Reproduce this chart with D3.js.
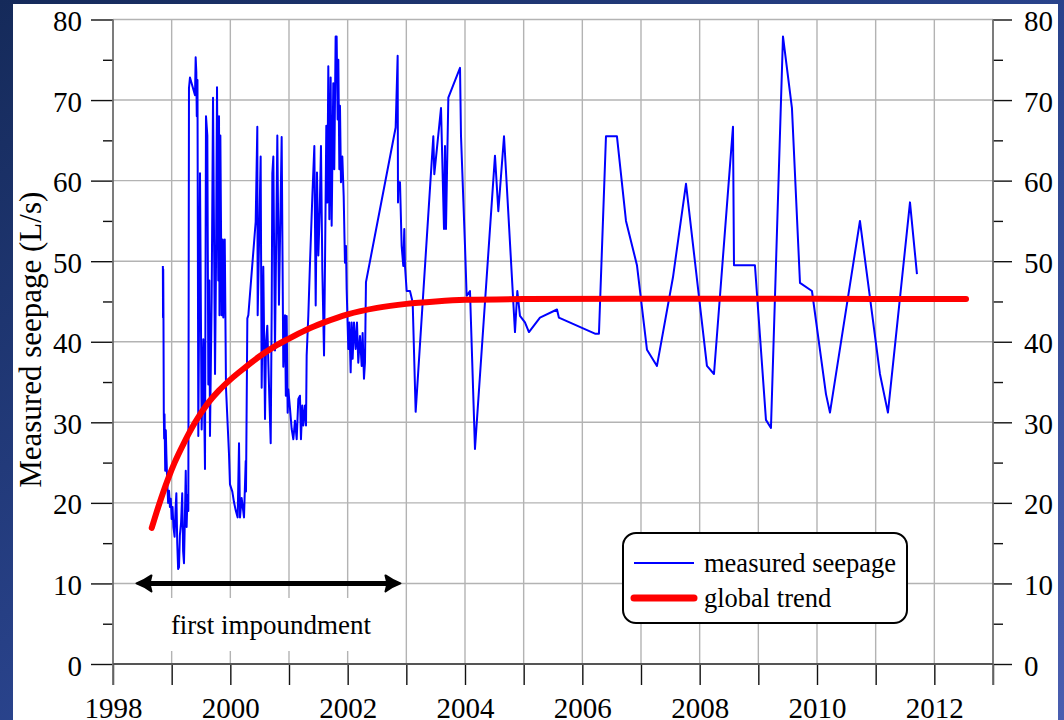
<!DOCTYPE html>
<html>
<head>
<meta charset="utf-8">
<script src="https://cdn.jsdelivr.net/npm/d3@7"></script>
<style>
  html, body { margin: 0; padding: 0; overflow: hidden; }
  svg { display: block; }
  text { font-family: "Liberation Serif", "DejaVu Serif", serif; fill: #000; }
</style>
</head>
<body>
<svg id="chart" width="1064" height="720"></svg>
<script>
// Measured seepage through the dam, [decimal year, L/s]
const measuredSeepage = [
  [1998.850, 49.4], [1998.853, 43.0], [1998.856, 49.0], [1998.860, 43.5], [1998.866, 31.0],
  [1998.872, 28.0], [1998.878, 31.0], [1998.890, 24.0], [1998.900, 29.0], [1998.910, 26.0],
  [1998.925, 22.5], [1998.940, 20.0], [1998.955, 21.5], [1998.970, 19.5], [1998.985, 20.5],
  [1999.000, 18.0], [1999.015, 19.5], [1999.030, 17.0], [1999.050, 15.8], [1999.065, 19.0],
  [1999.080, 21.2], [1999.095, 15.0], [1999.110, 11.8], [1999.125, 12.0], [1999.140, 16.0],
  [1999.160, 17.5], [1999.180, 21.2], [1999.195, 14.0], [1999.210, 12.5], [1999.225, 18.0],
  [1999.240, 24.0], [1999.255, 17.0], [1999.270, 21.0], [1999.284, 19.0],
  [1999.295, 71.5], [1999.312, 72.8], [1999.398, 70.6], [1999.409, 75.3], [1999.420, 73.5],
  [1999.428, 68.0], [1999.440, 72.5], [1999.454, 28.3], [1999.483, 60.9], [1999.511, 29.1],
  [1999.539, 40.3], [1999.568, 24.2], [1999.585, 68.0], [1999.608, 65.6], [1999.625, 34.7],
  [1999.642, 47.6], [1999.653, 28.3], [1999.682, 45.5], [1999.705, 70.3], [1999.739, 36.0],
  [1999.756, 49.7], [1999.773, 71.6], [1999.795, 47.6], [1999.807, 68.0], [1999.815, 43.3],
  [1999.830, 65.6], [1999.852, 43.3], [1999.870, 52.7], [1999.880, 43.0], [1999.905, 52.7],
  [1999.926, 34.3], [1999.955, 29.6], [1999.977, 26.1], [1999.994, 22.3], [2000.034, 21.4],
  [2000.062, 20.1], [2000.091, 19.1], [2000.125, 18.2], [2000.148, 27.4], [2000.165, 18.2],
  [2000.193, 20.6], [2000.233, 18.2], [2000.262, 25.2], [2000.267, 21.4], [2000.290, 42.9],
  [2000.307, 43.3], [2000.432, 54.9], [2000.460, 66.7], [2000.466, 43.3], [2000.517, 63.0],
  [2000.534, 34.3], [2000.562, 49.3], [2000.591, 30.4], [2000.608, 39.9], [2000.630, 42.0],
  [2000.665, 33.0], [2000.688, 27.4], [2000.705, 44.2], [2000.716, 60.9], [2000.733, 63.0],
  [2000.761, 38.9], [2000.801, 65.6], [2000.829, 44.6], [2000.875, 65.4], [2000.903, 36.9],
  [2000.932, 43.3], [2000.946, 33.3], [2000.960, 43.2], [2000.977, 31.2], [2000.988, 34.1],
  [2001.017, 31.7], [2001.045, 29.2], [2001.074, 27.9], [2001.102, 30.2], [2001.131, 27.9],
  [2001.159, 32.9], [2001.187, 33.3], [2001.204, 27.9], [2001.227, 32.1], [2001.244, 29.6],
  [2001.273, 32.1], [2001.290, 29.6], [2001.301, 38.3], [2001.329, 43.2], [2001.358, 49.8],
  [2001.398, 58.1], [2001.432, 64.3], [2001.455, 44.5], [2001.477, 61.0], [2001.500, 50.7],
  [2001.523, 56.0], [2001.545, 64.3], [2001.568, 49.0], [2001.597, 38.3], [2001.614, 49.8],
  [2001.636, 66.8], [2001.653, 57.3], [2001.670, 74.2], [2001.688, 55.2], [2001.710, 72.8],
  [2001.727, 54.4], [2001.755, 72.1], [2001.772, 61.4], [2001.795, 77.9], [2001.812, 77.9],
  [2001.829, 67.6], [2001.841, 75.0], [2001.858, 61.4], [2001.869, 69.3], [2001.886, 59.8],
  [2001.909, 63.0], [2001.932, 58.1], [2001.954, 49.8], [2001.971, 51.9], [2001.983, 46.5],
  [2002.011, 39.1], [2002.028, 42.4], [2002.051, 36.2], [2002.068, 42.4], [2002.085, 37.9],
  [2002.108, 42.4], [2002.136, 39.1], [2002.159, 42.4], [2002.181, 37.4], [2002.210, 40.7],
  [2002.239, 37.0], [2002.255, 41.1], [2002.278, 35.4], [2002.295, 37.4], [2002.312, 47.4],
  [2002.818, 66.6], [2002.852, 75.5], [2002.858, 57.3], [2002.863, 59.8], [2002.892, 59.8],
  [2002.920, 51.9], [2002.948, 49.4], [2002.965, 54.0], [2002.977, 49.4], [2003.006, 46.3],
  [2003.062, 46.3], [2003.108, 44.9], [2003.159, 31.3], [2003.460, 65.5], [2003.477, 60.8],
  [2003.591, 69.0], [2003.642, 54.0], [2003.659, 64.3], [2003.676, 54.0], [2003.716, 70.3],
  [2003.915, 74.0], [2003.932, 65.5], [2004.000, 51.9], [2004.028, 45.7], [2004.085, 46.3],
  [2004.170, 26.7], [2004.511, 63.1], [2004.568, 56.2], [2004.665, 65.5], [2004.852, 41.2],
  [2004.892, 46.3], [2004.937, 43.2], [2005.022, 42.4], [2005.090, 41.2], [2005.278, 43.0],
  [2005.568, 44.0], [2005.600, 43.0], [2006.215, 41.0], [2006.283, 41.0], [2006.403, 65.5],
  [2006.590, 65.5], [2006.744, 55.0], [2006.931, 49.5], [2007.102, 39.0], [2007.272, 37.0],
  [2007.545, 48.0], [2007.767, 59.6], [2008.124, 37.0], [2008.244, 36.0], [2008.568, 66.7],
  [2008.585, 49.5], [2008.942, 49.5], [2009.130, 30.3], [2009.215, 29.3], [2009.420, 77.9],
  [2009.573, 69.0], [2009.710, 47.3], [2009.914, 46.3], [2010.153, 33.5], [2010.221, 31.2],
  [2010.732, 55.0], [2011.073, 36.0], [2011.209, 31.2], [2011.585, 57.3], [2011.704, 48.4]
];

// Global trend of the seepage, [decimal year, L/s]
const trendSeepage = [
  [1998.66, 16.9], [1998.75, 19.0], [1998.85, 21.2], [1998.95, 23.2], [1999.05, 25.0],
  [1999.20, 27.3], [1999.40, 30.0], [1999.60, 32.2], [1999.80, 33.9], [2000.00, 35.3],
  [2000.25, 36.8], [2000.50, 38.2], [2000.75, 39.4], [2001.00, 40.4], [2001.30, 41.5],
  [2001.60, 42.4], [2002.00, 43.4], [2002.50, 44.2], [2003.00, 44.7], [2003.50, 45.0],
  [2004.00, 45.2], [2005.00, 45.3], [2007.00, 45.35], [2009.00, 45.35], [2011.00, 45.3],
  [2012.54, 45.3]
];

// First impoundment period, shown as a double arrow at 10 L/s
const impoundmentSpan = [1998.40, 2002.90];
const impoundmentLevel = 10;

const yearTicks = d3.range(1998, 2014);
const yearLabels = yearTicks.filter(d => d % 2 === 0);
const valueTicks = d3.range(0, 81, 10);
const valueMinorTicks = d3.range(5, 80, 10);

const seriesNames = ["measured seepage", "global trend"];
const yTitle = "Measured seepage (L/s)";
const spanLabel = "first impoundment";

const W = 1064, H = 720;
const svg = d3.select("#chart");

// Background: blue gradient frame with a white card
const defs = svg.append("defs");
const grad = defs.append("linearGradient").attr("id", "bg")
  .attr("x1", "0").attr("y1", "0").attr("x2", "1").attr("y2", "1");
grad.append("stop").attr("offset", "0%").attr("stop-color", "#152a5a");
grad.append("stop").attr("offset", "55%").attr("stop-color", "#2b4590");
grad.append("stop").attr("offset", "100%").attr("stop-color", "#4a5eb0");
svg.append("rect").attr("width", W).attr("height", H).attr("fill", "url(#bg)");
svg.append("rect").attr("x", 13).attr("y", 4).attr("width", 1045).attr("height", H).attr("fill", "#fff");

const x = d3.scaleLinear().domain([1998, 2013]).range([113, 993]);
const y = d3.scaleLinear().domain([0, 80]).range([664, 19.5]);

// Grid
const grid = svg.append("g").attr("stroke", "#b3b3b3").attr("stroke-width", 1.4);
grid.selectAll("line.v").data(yearTicks.slice(1, -1)).join("line")
  .attr("x1", d => x(d)).attr("x2", d => x(d))
  .attr("y1", y(80)).attr("y2", y(0));
grid.selectAll("line.h").data(valueTicks.slice(1)).join("line")
  .attr("x1", x(1998)).attr("x2", x(2013))
  .attr("y1", d => y(d)).attr("y2", d => y(d));

// Axes
const fontSize = 29;
function styleAxis(g) {
  g.select(".domain").remove();
  g.selectAll(".tick line").attr("stroke", "#111").attr("stroke-width", 1.4);
  g.selectAll(".tick text").style("font-family", '"Liberation Serif", serif')
    .style("font-size", fontSize + "px").attr("fill", "#000");
}
svg.append("g").attr("transform", `translate(${x(1998)},0)`)
  .call(d3.axisLeft(y).tickValues(valueTicks).tickSize(22).tickPadding(9).tickFormat(d3.format("d")))
  .call(styleAxis).selectAll(".tick text").attr("dy", "0.38em");
svg.append("g").attr("transform", `translate(${x(1998)},0)`)
  .call(d3.axisLeft(y).tickValues(valueMinorTicks).tickSize(10).tickFormat(""))
  .call(styleAxis);
svg.append("g").attr("transform", `translate(${x(2013)},0)`)
  .call(d3.axisRight(y).tickValues(valueTicks).tickSize(19).tickPadding(12).tickFormat(d3.format("d")))
  .call(styleAxis).selectAll(".tick text").attr("dy", "0.38em");
svg.append("g").attr("transform", `translate(${x(2013)},0)`)
  .call(d3.axisRight(y).tickValues(valueMinorTicks).tickSize(10).tickFormat(""))
  .call(styleAxis);
svg.append("g").attr("transform", `translate(0,${y(0)})`)
  .call(d3.axisBottom(x).tickValues(yearTicks).tickSize(21).tickPadding(12)
    .tickFormat(d => yearLabels.includes(d) ? String(d) : ""))
  .call(styleAxis);

// Frame lines
const frame = svg.append("g").attr("stroke", "#6e6e6e").attr("stroke-width", 1.8);
frame.append("line").attr("x1", x(1998)).attr("x2", x(1998)).attr("y1", y(80)).attr("y2", y(0) + 21);
frame.append("line").attr("x1", x(2013)).attr("x2", x(2013)).attr("y1", y(80)).attr("y2", y(0) + 21);
frame.append("line").attr("x1", x(1998)).attr("x2", x(2013)).attr("y1", y(0)).attr("y2", y(0))
  .attr("stroke", "#555");

// Y title
svg.append("text")
  .attr("transform", `translate(41,${(y(0) + y(80)) / 2 - 2}) rotate(-90)`)
  .attr("text-anchor", "middle")
  .style("font-size", "31px")
  .text(yTitle);

// Series
const line = d3.line().x(d => x(d[0])).y(d => y(d[1]));
svg.append("path").datum(measuredSeepage)
  .attr("fill", "none").attr("stroke", "#0000ff").attr("stroke-width", 2)
  .attr("stroke-linejoin", "round").attr("d", line);

const trendLine = d3.line().x(d => x(d[0])).y(d => y(d[1])).curve(d3.curveMonotoneX);
svg.append("path").datum(trendSeepage)
  .attr("fill", "none").attr("stroke", "#ff0000").attr("stroke-width", 6)
  .attr("stroke-linecap", "round").attr("d", trendLine);

// First impoundment arrow
const ax1 = x(impoundmentSpan[0]), ax2 = x(impoundmentSpan[1]), ay = y(impoundmentLevel);
const arrow = svg.append("g");
arrow.append("line").attr("x1", ax1 + 8).attr("x2", ax2 - 8).attr("y1", ay).attr("y2", ay)
  .attr("stroke", "#000").attr("stroke-width", 5);
const head = (tipX, dir) => {
  const p = d3.path();
  p.moveTo(tipX, ay);
  p.quadraticCurveTo(tipX + dir * 8, ay - 3, tipX + dir * 15, ay - 8);
  p.lineTo(tipX + dir * 13, ay);
  p.lineTo(tipX + dir * 15, ay + 8);
  p.quadraticCurveTo(tipX + dir * 8, ay + 3, tipX, ay);
  p.closePath();
  return p.toString();
};
arrow.append("path").attr("d", head(ax1, 1)).attr("fill", "#000").attr("stroke", "#000")
  .attr("stroke-width", 2).attr("stroke-linejoin", "round");
arrow.append("path").attr("d", head(ax2, -1)).attr("fill", "#000").attr("stroke", "#000")
  .attr("stroke-width", 2).attr("stroke-linejoin", "round");

const labelG = svg.append("g");
const lbl = labelG.append("text")
  .attr("x", 271).attr("y", 634)
  .attr("text-anchor", "middle").style("font-size", "27px").text(spanLabel);
const bb = lbl.node().getBBox();
labelG.insert("rect", "text").attr("x", bb.x - 8).attr("y", 598)
  .attr("width", bb.width + 16).attr("height", 53).attr("fill", "#fff");

// Legend
const legend = svg.append("g").attr("transform", "translate(623,533)");
legend.append("rect").attr("width", 284).attr("height", 90).attr("rx", 13)
  .attr("fill", "#fff").attr("stroke", "#000").attr("stroke-width", 2);
const legendStyles = [
  { color: "#0000ff", width: 2, cap: "butt", y: 30 },
  { color: "#ff0000", width: 7, cap: "round", y: 65 }
];
seriesNames.forEach((name, i) => {
  const s = legendStyles[i];
  legend.append("line").attr("x1", 11).attr("x2", 71).attr("y1", s.y).attr("y2", s.y)
    .attr("stroke", s.color).attr("stroke-width", s.width).attr("stroke-linecap", s.cap);
  legend.append("text").attr("x", 81).attr("y", s.y + 9).style("font-size", "26.5px").text(name);
});
</script>
</body>
</html>
